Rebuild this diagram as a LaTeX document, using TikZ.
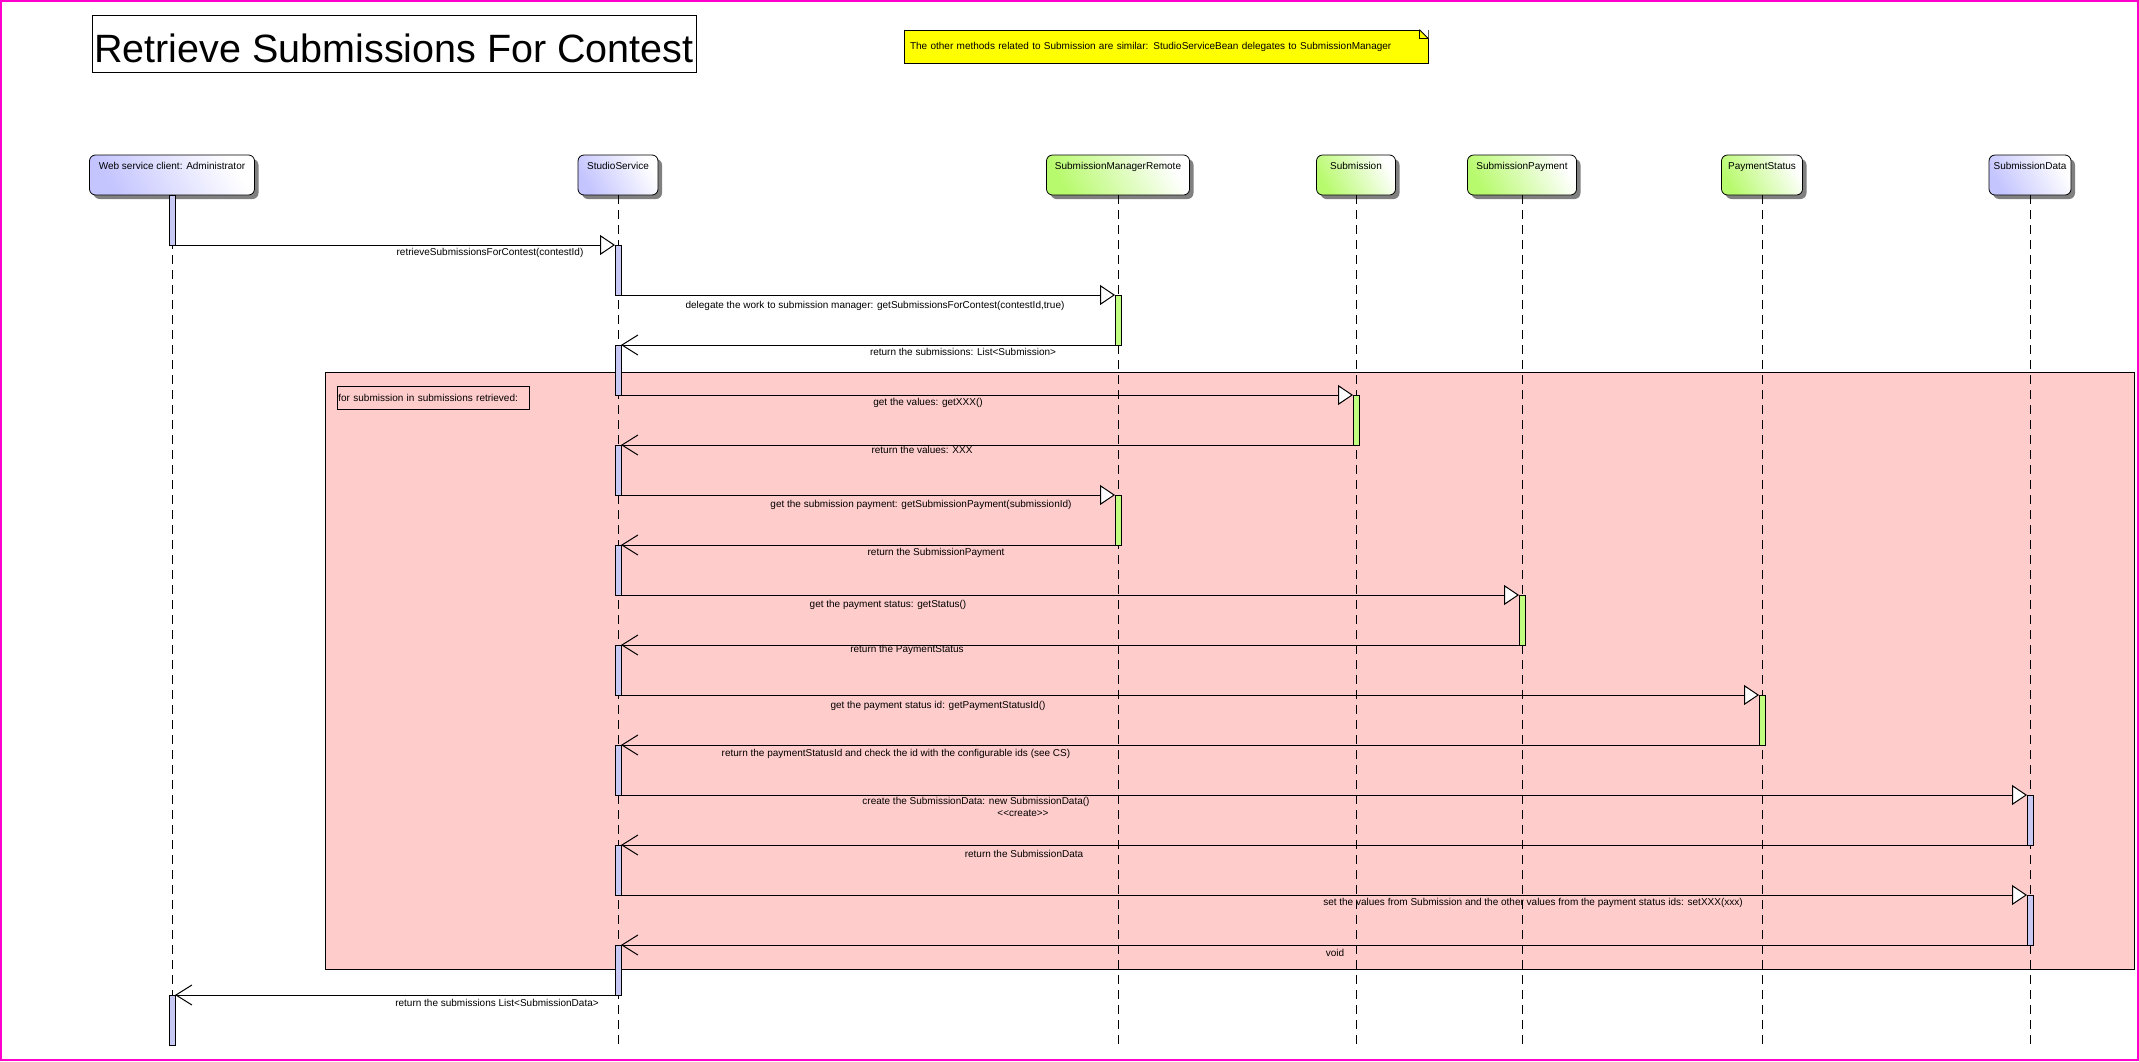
\documentclass[tikz,border=0pt]{standalone}
\usepackage{fontspec}
\setmainfont[Ligatures=NoCommon]{Liberation Sans}
\usetikzlibrary{arrows.meta,shadows}
\definecolor{pinkbg}{RGB}{255,204,204}
\definecolor{framemag}{RGB}{255,0,204}
\definecolor{headblue}{RGB}{196,196,255}
\definecolor{headgreen}{RGB}{184,250,110}
\definecolor{barblue}{RGB}{200,200,245}
\definecolor{bargreen}{RGB}{192,255,128}
\definecolor{notey}{RGB}{255,255,0}
\definecolor{shadowgray}{RGB}{128,128,128}
\tikzset{
  lbl/.style={font=\fontsize{10}{12}\selectfont, inner sep=0pt},
  head/.style={draw, line width=0.8pt, rounded corners=6pt, minimum height=40pt,
    inner xsep=2pt, inner ysep=5pt, text height=9pt, text depth=21pt,
    font=\fontsize{10}{12}\selectfont,
    drop shadow={shadow xshift=4pt, shadow yshift=-4pt, fill=shadowgray, opacity=1}},
  bluehead/.style={head, bottom color=headblue, top color=white, shading angle=-60},
  greenhead/.style={head, bottom color=headgreen, top color=white, shading angle=-60},
  bar/.style={draw, line width=0.8pt, minimum width=6pt, minimum height=50pt, inner sep=0pt, outer sep=0pt},
  bbar/.style={bar, fill=barblue},
  gbar/.style={bar, fill=bargreen},
  call/.style={draw, line width=1pt, -{Triangle[length=15pt,width=20pt,fill=white]}},
  ret/.style={draw, line width=1pt, -{Straight Barb[length=16pt,width=20pt]}},
  lifeline/.style={draw, line width=0.8pt, dash pattern=on 9pt off 6pt},
  loopframe/.style={draw, line width=0.8pt, fill=pinkbg},
}
\begin{document}
\begin{tikzpicture}[x={(1pt,0)}, y={(0,-1pt)}]
\useasboundingbox (0,0) rectangle (2139,1061);
\draw[framemag, line width=2pt] (1,1) rectangle (2138,1060);

% title
\node[draw, line width=0.8pt, minimum width=604pt, minimum height=57pt, inner sep=0pt,
  text height=37pt, text depth=0pt, font=\fontsize{39.5}{44}\selectfont] (title) at (394,43.5) {Retrieve Submissions For Contest};

% note
\node[draw, line width=0.8pt, fill=notey, minimum height=33pt, inner xsep=6pt, inner ysep=0pt,
  text width=512pt, align=left, font=\fontsize{10}{12}\selectfont] (note) at (1166,46.5)
  {The other methods related to Submission are similar: StudioServiceBean delegates to SubmissionManager};
\fill[white] (note.north east) -- ++(-9,0) -- ++(9,9) -- cycle;
\draw[line width=0.8pt] (note.north east) ++(-9,0) -- ++(9,9);
\draw[line width=0.8pt] (note.north east) ++(-9,0) -- ++(0,9) -- ++(9,0);

% heads
\node[bluehead, minimum width=165pt] (ha) at (172,175) {Web service client: Administrator};
\node[bluehead, minimum width=80pt] (hs) at (618,175) {StudioService};
\node[greenhead, minimum width=143pt] (hm) at (1118,175) {SubmissionManagerRemote};
\node[greenhead, minimum width=79pt] (hb) at (1356,175) {Submission};
\node[greenhead, minimum width=109pt] (hp) at (1522,175) {SubmissionPayment};
\node[greenhead, minimum width=81pt] (hq) at (1762,175) {PaymentStatus};
\node[bluehead, minimum width=82pt] (hd) at (2030,175) {SubmissionData};

% loop frame
\draw[loopframe] (325,372) rectangle (2134,969);
\node[draw, line width=0.8pt, anchor=north west, minimum height=23pt, inner xsep=1pt, inner ysep=0pt,
  text width=190pt, align=left, font=\fontsize{10}{12}\selectfont] (looplbl) at (337,386)
  {for submission in submissions retrieved:};

% lifelines
\coordinate (llend) at (0,1050);
\foreach \h in {ha,hs,hm,hb,hp,hq,hd} {
  \draw[lifeline] (\h.south) -- (\h.south |- llend);
}

% activation bars
\node[bbar] (a1) at (172,220) {};
\node[bbar] (a2) at (172,1020) {};
\foreach \i/\y in {1/270,2/370,3/470,4/570,5/670,6/770,7/870,8/970} {
  \node[bbar] (s\i) at (618,\y) {};
}
\node[gbar] (m1) at (1118,320) {};
\node[gbar] (m2) at (1118,520) {};
\node[gbar] (b1) at (1356,420) {};
\node[gbar] (p1) at (1522,620) {};
\node[gbar] (q1) at (1762,720) {};
\node[bbar] (d1) at (2030,820) {};
\node[bbar] (d2) at (2030,920) {};

% messages
\draw[call] (a1.south east) -- (s1.north west);
\draw[call] (s1.south east) -- (m1.north west);
\draw[ret]  (m1.south west) -- (s2.north east);
\draw[call] (s2.south east) -- (b1.north west);
\draw[ret]  (b1.south west) -- (s3.north east);
\draw[call] (s3.south east) -- (m2.north west);
\draw[ret]  (m2.south west) -- (s4.north east);
\draw[call] (s4.south east) -- (p1.north west);
\draw[ret]  (p1.south west) -- (s5.north east);
\draw[call] (s5.south east) -- (q1.north west);
\draw[ret]  (q1.south west) -- (s6.north east);
\draw[call] (s6.south east) -- (d1.north west);
\draw[ret]  (d1.south west) -- (s7.north east);
\draw[call] (s7.south east) -- (d2.north west);
\draw[ret]  (d2.south west) -- (s8.north east);
\draw[ret]  (s8.south west) -- (a2.north east);

% labels
\node[lbl] (t1) at (490,253) {retrieveSubmissionsForContest(contestId)};
\node[lbl] (t2) at (875,306) {delegate the work to submission manager: getSubmissionsForContest(contestId,true)};
\node[lbl] (t3) at (963,352) {return the submissions: List<Submission>};
\node[lbl] (t4) at (928,403) {get the values: getXXX()};
\node[lbl] (t5) at (922,450) {return the values: XXX};
\node[lbl] (t6) at (921,505) {get the submission payment: getSubmissionPayment(submissionId)};
\node[lbl] (t7) at (936,553) {return the SubmissionPayment};
\node[lbl] (t8) at (888,605) {get the payment status: getStatus()};
\node[lbl] (t9) at (907,650) {return the PaymentStatus};
\node[lbl] (t10) at (938,706) {get the payment status id: getPaymentStatusId()};
\node[lbl] (t11) at (896,754) {return the paymentStatusId and check the id with the configurable ids (see CS)};
\node[lbl] (t12) at (976,802) {create the SubmissionData: new SubmissionData()};
\node[lbl] (t12b) at (1023,813) {<{}<create>{}>};
\node[lbl] (t13) at (1024,854) {return the SubmissionData};
\node[lbl] (t14) at (1533,903) {set the values from Submission and the other values from the payment status ids: setXXX(xxx)};
\node[lbl] (t15) at (1335,953) {void};
\node[lbl] (t16) at (497,1003) {return the submissions List<SubmissionData>};
\end{tikzpicture}
\end{document}
